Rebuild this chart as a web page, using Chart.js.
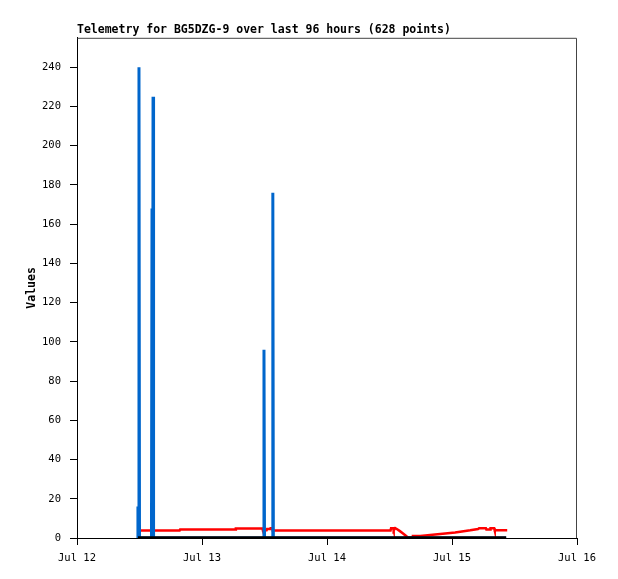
<!DOCTYPE html>
<html>
<head>
<meta charset="utf-8">
<script src="https://cdn.jsdelivr.net/npm/chart.js@4/dist/chart.umd.min.js"></script>
<style>
  html, body { margin: 0; padding: 0; background: #fff; }
  #wrap { width: 618px; height: 579px; }
</style>
</head>
<body>
<div id="wrap"><canvas id="telemetry"></canvas></div>
<script>
// hours since Jul 12 00:00
const dayLabels = ['Jul 12', 'Jul 13', 'Jul 14', 'Jul 15', 'Jul 16'];
const yTicks = [0, 20, 40, 60, 80, 100, 120, 140, 160, 180, 200, 220, 240];

// blue channel: mostly zero with a few spikes
const blueHours  = [11.6, 11.7, 11.8, 11.9, 12.0, 14.3, 14.4, 14.5, 14.6, 14.7, 35.8, 35.9, 36.0, 37.5, 37.6, 37.7, 82.4];
const blueValues = [0,    16,   0,    240,  0,    0,    168,  0,    225,  0,    0,    96,   0,    0,    176,  0,    0];

// red channel
const redHours  = [12.1, 19.7, 19.8, 30.4, 30.5, 35.6, 35.7, 36.4, 36.5, 37.1, 37.2, 37.5, 37.6,
                   60.2, 60.3, 60.7, 60.8, 61.1, 61.4, 62.0, 62.6, 63.2, 63.5, 64.4, 64.5,
                   65.9, 67.8, 70.7, 72.6, 73.9, 75.5, 77.0, 77.2, 78.5, 78.6, 79.3, 79.4, 80.1, 80.2, 82.6];
const redValues = [3.8,  3.8,  4.3,  4.3,  4.8,  4.8,  3.9,  3.9,  4.6,  4.6,  5.0,  5.0,  3.8,
                   3.8,  5.0,  5.0,  3.9,  5.0,  4.6,  3.5,  2.3,  1.0,  0.3,  0.3,  1.0,
                   1.0,  1.5,  2.3,  2.8,  3.3,  3.9,  4.6,  5.0,  5.0,  4.3,  4.3,  5.0,  5.0,  3.9,  3.9];

// black channel: flat at zero
const blackHours  = [11.7, 24, 36, 48, 60, 72, 82.4];
const blackValues = [0, 0, 0, 0, 0, 0, 0];

function toPoints(xs, ys) {
    return xs.map((x, i) => ({ x: x, y: ys[i] }));
}

const FONT = "'DejaVu Sans Mono', monospace";

// frame around the plot area (top and right edges)
const framePlugin = {
    id: 'frame',
    beforeDatasetsDraw(chart) {
        const { ctx, chartArea } = chart;
        ctx.save();
        ctx.strokeStyle = '#444';
        ctx.lineWidth = 1;
        ctx.beginPath();
        ctx.moveTo(chartArea.left + 0.5, chartArea.top + 0.5);
        ctx.lineTo(chartArea.right - 0.5, chartArea.top + 0.5);
        ctx.lineTo(chartArea.right - 0.5, chartArea.bottom);
        ctx.stroke();
        ctx.restore();
    }
};

new Chart(document.getElementById('telemetry'), {
    type: 'line',
    data: {
        datasets: [
            { data: toPoints(blackHours, blackValues), borderColor: '#000', borderWidth: 3.5, order: 0 },
            { data: toPoints(blueHours, blueValues), borderColor: '#0066cc', borderWidth: 3, order: 1 },
            { data: toPoints(redHours, redValues), borderColor: '#ff0000', borderWidth: 2.5, order: 2 }
        ]
    },
    options: {
        responsive: true,
        maintainAspectRatio: false,
        animation: false,
        elements: { point: { radius: 0 }, line: { tension: 0 } },
        layout: { padding: { left: 0, right: 41, top: 23, bottom: 0 } },
        plugins: {
            legend: { display: false },
            tooltip: { enabled: false },
            title: {
                display: true,
                text: 'Telemetry for BG5DZG-9 over last 96 hours (628 points)',
                align: 'start',
                fullSize: false,
                color: '#000',
                font: { family: FONT, size: 11.5, weight: 'bold' },
                padding: { top: 0, bottom: 1 }
            }
        },
        scales: {
            x: {
                type: 'linear',
                min: 0,
                max: 96,
                afterBuildTicks(scale) {
                    scale.ticks = dayLabels.map((_, i) => ({ value: i * 24 }));
                },
                afterFit(scale) { scale.height = 41; },
                ticks: {
                    color: '#000',
                    font: { family: FONT, size: 10.5 },
                    padding: 7,
                    maxRotation: 0,
                    callback: (v) => dayLabels[v / 24]
                },
                grid: { drawOnChartArea: false, drawTicks: true, tickLength: 7, tickColor: '#000' },
                border: { display: true, color: '#000', width: 1 }
            },
            y: {
                type: 'linear',
                min: 0,
                max: 255,
                afterBuildTicks(scale) {
                    scale.ticks = yTicks.map(v => ({ value: v }));
                },
                afterFit(scale) { scale.width = 77; },
                ticks: {
                    color: '#000',
                    font: { family: FONT, size: 10.5 },
                    padding: 9
                },
                title: {
                    display: true,
                    text: 'Values',
                    color: '#000',
                    font: { family: FONT, size: 11.5, weight: 'bold' },
                    padding: { top: 25, bottom: 0 }
                },
                grid: { drawOnChartArea: false, drawTicks: true, tickLength: 7, tickColor: '#000' },
                border: { display: true, color: '#000', width: 1 }
            }
        }
    },
    plugins: [framePlugin]
});
</script>
</body>
</html>
